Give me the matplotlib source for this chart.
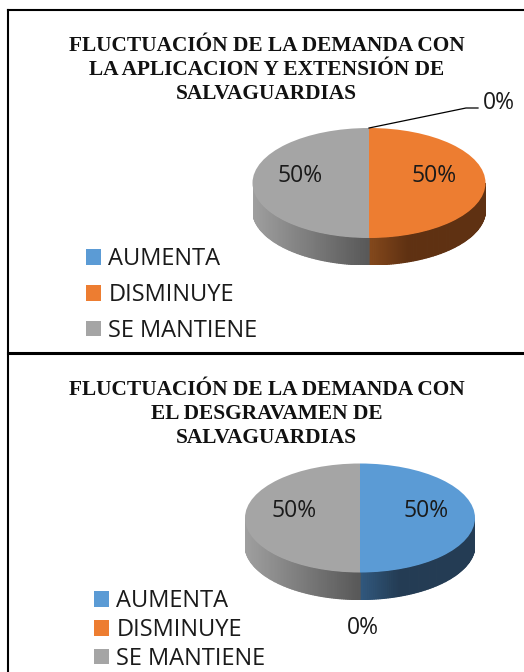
#!/usr/bin/env python3
import numpy as np
import matplotlib
matplotlib.use('Agg')
import matplotlib.pyplot as plt
from matplotlib.patches import Polygon

# data
categories = ['AUMENTA', 'DISMINUYE', 'SE MANTIENE']
values_top = [0, 50, 50]
values_bottom = [50, 0, 50]
title_top = 'FLUCTUACIÓN DE LA DEMANDA CON\nLA APLICACION Y EXTENSIÓN DE\nSALVAGUARDIAS'
title_bottom = 'FLUCTUACIÓN DE LA DEMANDA CON\nEL DESGRAVAMEN DE\nSALVAGUARDIAS'

colors = ['#5B9BD5', '#ED7D31', '#A5A5A5']
# side wall colours, light end then dark end
side_colors = [('#31597F', '#243C54'), ('#85491C', '#5F3112'), ('#A0A0A0', '#585858')]

W, H = 524, 672
SANS = ['Open Sans', 'DejaVu Sans']
SERIF = 'Liberation Serif'


def blend(c1, c2, t):
    a = np.array(matplotlib.colors.to_rgb(c1))
    b = np.array(matplotlib.colors.to_rgb(c2))
    return a + (b - a) * t


def draw_side(ax, vals, depth):
    """wall of the 3d pie, only the part facing the viewer"""
    edges = 90 - np.cumsum([0] + vals) * 3.6
    for i in range(len(vals)):
        if vals[i] == 0:
            continue
        # visible wall is between -180 and 0
        a0, a1 = max(edges[i + 1], -180), min(edges[i], 0)
        steps = np.linspace(a0, a1, 90)
        for k in range(len(steps) - 1):
            t = np.radians([steps[k], steps[k + 1]])
            x = np.cos(t)
            y = np.sin(t)
            pts = [(x[0], y[0]), (x[1], y[1]), (x[1], y[1] - depth), (x[0], y[0] - depth)]
            mid = (steps[k] + steps[k + 1]) / 2
            if mid < -90:
                # gray goes darker towards the front
                f = 1 + np.cos(np.radians(mid))
            else:
                f = np.clip((mid + 90) / 20, 0, 1)
            col = blend(side_colors[i][0], side_colors[i][1], f)
            ax.add_patch(Polygon(pts, closed=True, fc=col, ec=col, lw=0.9, zorder=1))


def pie3d(fig, vals, cx, cy, rx, ry, depth_px):
    """cx, cy, rx, ry in pixels"""
    d = depth_px / ry
    ax = fig.add_axes([(cx - rx) / W, 1 - (cy + ry + depth_px) / H,
                       2 * rx / W, (2 * ry + depth_px) / H])
    wedges, _ = ax.pie(vals, colors=colors, startangle=90, counterclock=False, radius=1,
                       wedgeprops={'zorder': 2, 'lw': 0})
    ax.set_aspect('auto')
    ax.set_xlim(-1, 1)
    ax.set_ylim(-1 - d, 1)
    draw_side(ax, vals, d)
    return wedges


fig = plt.figure(figsize=(W / 100, H / 100), dpi=100)
bg = fig.add_axes([0, 0, 1, 1])
bg.set_xlim(0, W)
bg.set_ylim(H, 0)
bg.axis('off')

# table borders
bg.plot([8, 8], [H, 10], color='black', lw=1.5, solid_capstyle='projecting')
bg.plot([8, W], [10, 10], color='black', lw=1.5)
bg.plot([8, W], [353, 353], color='black', lw=2.2)

# titles
bg.text(266.5, 70, title_top, family=SERIF, weight='bold', fontsize=15.4, ha='center', va='center',
        linespacing=1.28, color='#111111')
bg.text(266.5, 414, title_bottom, family=SERIF, weight='bold', fontsize=15.4, ha='center', va='center',
        linespacing=1.28, color='#111111')

w1 = pie3d(fig, values_top, 369, 183, 116.5, 55, 27)
w2 = pie3d(fig, values_bottom, 360, 518, 115, 54.5, 27)

# data labels
for x, y, s in [(300, 176, '50%'), (434.5, 176, '50%'), (499, 103, '0%'),
                (294, 511, '50%'), (426, 511, '50%'), (363, 628, '0%')]:
    bg.text(x, y, s, family=SANS, fontsize=16.5, ha='center', va='center', color='#1a1a1a')
bg.plot([369, 466, 478], [128, 108, 108], color='black', lw=0.9)
bg.set_zorder(3)

# legends, the first one has to be kept by hand or the second replaces it
for wedges, x, y, gap in [(w1, 65, 295, 0.5), (w2, 73, 630, 0.2)]:
    leg = fig.legend(wedges, categories, loc='center left', bbox_to_anchor=(x / W, 1 - y / H),
                     frameon=False, prop={'family': SANS, 'size': 17},
                     handlelength=0.64, handleheight=0.64, handletextpad=0.3, labelspacing=gap,
                     labelcolor='#1a1a1a')

fig.savefig('out.png', dpi=100)
